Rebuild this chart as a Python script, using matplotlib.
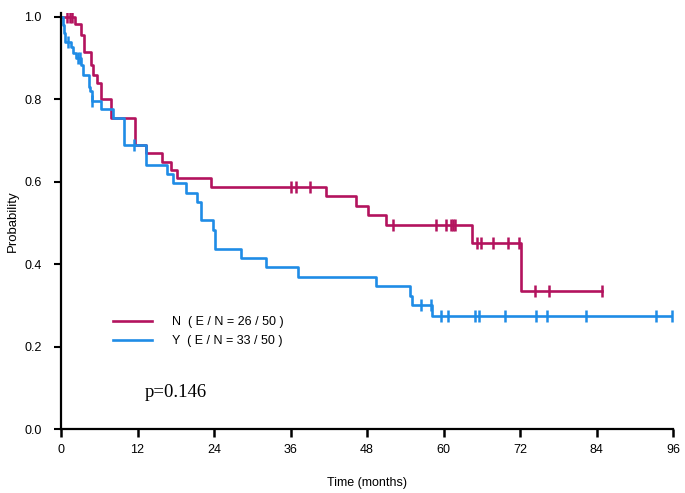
import matplotlib
matplotlib.use('Agg')
import matplotlib.pyplot as plt
import numpy as np

# step curves: event times (months) and survival level after them
n_times = [0, 2.2, 3.1, 3.6, 4.7, 5.0, 5.6, 6.3, 7.8, 11.6, 13.3, 15.8, 17.2, 18.2,
           23.5, 41.6, 46.2, 48.2, 51.0, 64.5, 72.2]
n_surv = [1.0, 0.983, 0.956, 0.915, 0.883, 0.86, 0.84, 0.80, 0.755, 0.69, 0.67, 0.648,
          0.629, 0.609, 0.587, 0.566, 0.541, 0.519, 0.495, 0.451, 0.334]
n_cens = [0.9, 1.4, 1.8, 36.0, 36.8, 39.1, 52.0, 58.8, 60.4, 61.2, 61.5, 61.8, 65.3,
          65.9, 67.8, 70.1, 71.9, 74.3, 76.5, 84.8]

y_times = [0, 0.3, 0.5, 0.6, 1.6, 1.9, 2.3, 3.1, 3.4, 4.4, 4.6, 4.8, 6.2, 8.2, 9.9,
           13.3, 16.6, 17.5, 19.6, 21.4, 21.9, 23.8, 24.1, 28.3, 32.2, 37.1, 49.4,
           54.8, 55.0, 58.2]
y_surv = [1.0, 0.98, 0.96, 0.94, 0.927, 0.913, 0.90, 0.883, 0.86, 0.83, 0.82, 0.796,
          0.777, 0.755, 0.69, 0.64, 0.62, 0.597, 0.573, 0.551, 0.507, 0.483, 0.437,
          0.415, 0.393, 0.369, 0.347, 0.323, 0.30, 0.274]
y_cens = [1.1, 2.6, 3.0, 4.9, 11.4, 56.5, 58.1, 59.6, 60.7, 65.0, 65.6, 69.6, 74.5,
          76.2, 82.3, 93.4, 95.8]

labels = ['N  ( E / N = 26 / 50 )', 'Y  ( E / N = 33 / 50 )']
colors = ['#B3135E', '#1F8CE6']
xticks = [0, 12, 24, 36, 48, 60, 72, 84, 96]
yticks = [0.0, 0.2, 0.4, 0.6, 0.8, 1.0]

plt.rcParams['font.family'] = ['Liberation Sans', 'DejaVu Sans']

fig = plt.figure(figsize=(6.85, 4.93), dpi=100)
ax = fig.add_axes([61/685, 1 - 429/493, (673 - 61)/685, (429 - 13)/493])


def km(times, surv, cens, color, label):
    t = np.array(times + [max(cens)])
    s = np.array(surv + [surv[-1]])
    ax.step(t, s, where='post', color=color, lw=1.9, label=label)
    idx = np.searchsorted(times, cens, side='right') - 1
    ax.plot(cens, np.array(surv)[idx], ls='none', marker='|', ms=8, mew=1.8,
            color=color)


km(n_times, n_surv, n_cens, colors[0], labels[0])
km(y_times, y_surv, y_cens, colors[1], labels[1])

ax.set_xlim(0, 96)
ax.set_ylim(0, 1.0097)
ax.set_xticks(xticks)
ax.set_yticks(yticks)
ax.set_yticklabels(['%.1f' % v for v in yticks])
for s in ['top', 'right']:
    ax.spines[s].set_visible(False)
for s in ['left', 'bottom']:
    ax.spines[s].set_linewidth(1.6)
ax.tick_params(axis='x', direction='out', length=6, width=1.8, pad=5, labelsize=9)
ax.tick_params(axis='y', direction='out', length=5, width=1.5, pad=9, labelsize=9)
ax.set_xlabel('Time (months)', fontsize=9, labelpad=15)
ax.set_ylabel('Probability', fontsize=9.5)
ax.yaxis.set_label_coords((19 - 61) / 612, 0.5)

ax.legend(loc='upper left', bbox_to_anchor=(113/685, 1 - 316/493),
          bbox_transform=fig.transFigure, frameon=False, fontsize=9,
          handlelength=3.1, handletextpad=1.6, labelspacing=0.55,
          borderpad=0, borderaxespad=0)

ax.text(13.1, 0.078, 'p=0.146', family='Liberation Serif', fontsize=13.5,
        va='baseline')

fig.savefig('out.png', dpi=100)
